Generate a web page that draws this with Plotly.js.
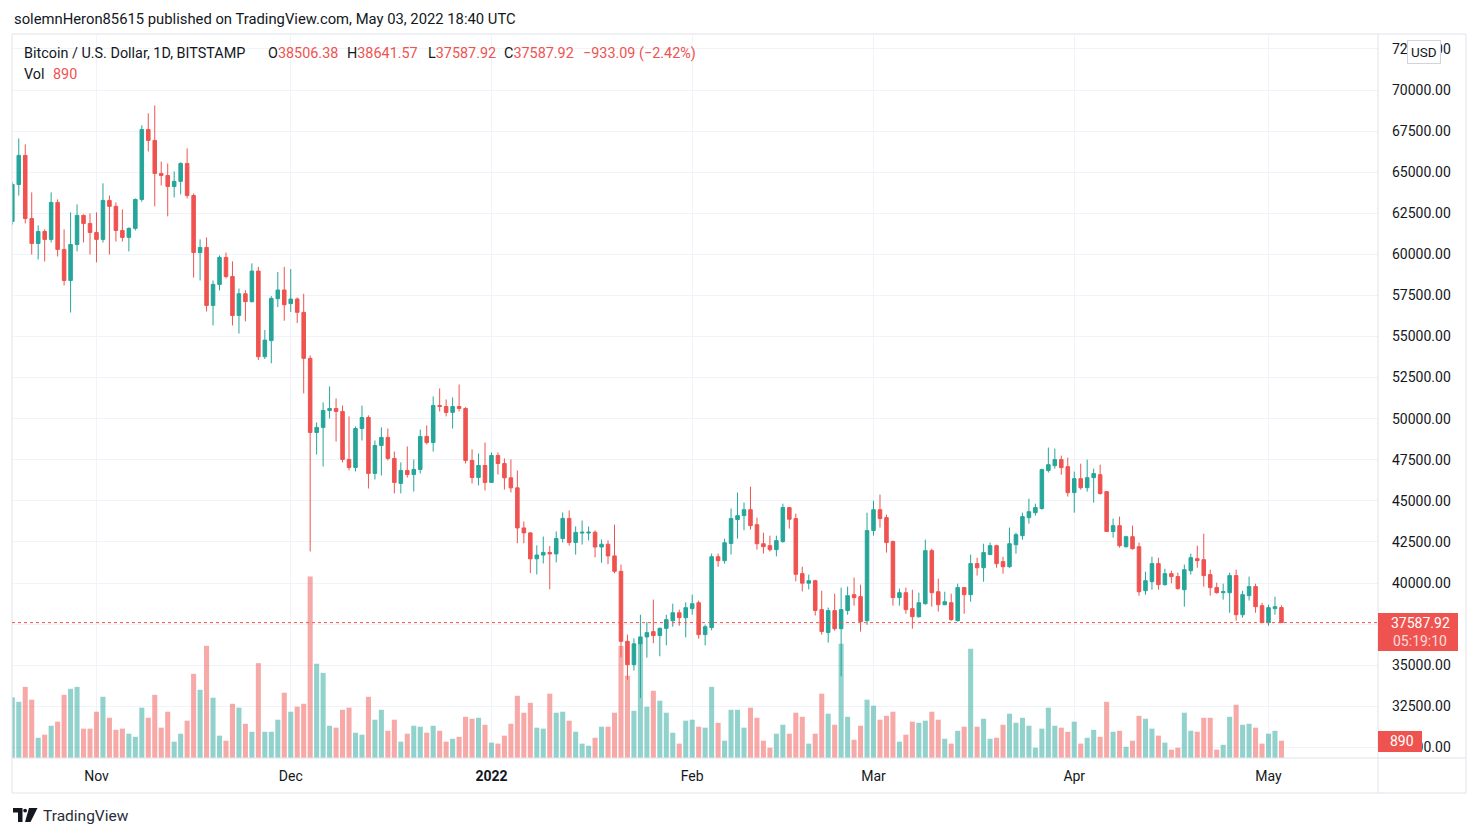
<!DOCTYPE html>
<html><head><meta charset="utf-8">
<script src="https://cdn.plot.ly/plotly-3.0.1.min.js"></script>
<style>html,body{margin:0;padding:0;background:#fff;overflow:hidden}#chart{width:1478px;height:837px}</style>
</head><body><div id="chart"></div>
<script>
// ---------- DATA ----------
const dates = [
"2021-10-19","2021-10-20","2021-10-21","2021-10-22","2021-10-23","2021-10-24","2021-10-25","2021-10-26","2021-10-27","2021-10-28","2021-10-29","2021-10-30","2021-10-31",
"2021-11-01","2021-11-02","2021-11-03","2021-11-04","2021-11-05","2021-11-06","2021-11-07","2021-11-08","2021-11-09","2021-11-10","2021-11-11","2021-11-12","2021-11-13","2021-11-14","2021-11-15","2021-11-16","2021-11-17","2021-11-18","2021-11-19","2021-11-20","2021-11-21","2021-11-22","2021-11-23","2021-11-24","2021-11-25","2021-11-26","2021-11-27","2021-11-28","2021-11-29","2021-11-30",
"2021-12-01","2021-12-02","2021-12-03","2021-12-04","2021-12-05","2021-12-06","2021-12-07","2021-12-08","2021-12-09","2021-12-10","2021-12-11","2021-12-12","2021-12-13","2021-12-14","2021-12-15","2021-12-16","2021-12-17","2021-12-18","2021-12-19","2021-12-20","2021-12-21","2021-12-22","2021-12-23","2021-12-24","2021-12-25","2021-12-26","2021-12-27","2021-12-28","2021-12-29","2021-12-30","2021-12-31",
"2022-01-01","2022-01-02","2022-01-03","2022-01-04","2022-01-05","2022-01-06","2022-01-07","2022-01-08","2022-01-09","2022-01-10","2022-01-11","2022-01-12","2022-01-13","2022-01-14","2022-01-15","2022-01-16","2022-01-17","2022-01-18","2022-01-19","2022-01-20","2022-01-21","2022-01-22","2022-01-23","2022-01-24","2022-01-25","2022-01-26","2022-01-27","2022-01-28","2022-01-29","2022-01-30","2022-01-31",
"2022-02-01","2022-02-02","2022-02-03","2022-02-04","2022-02-05","2022-02-06","2022-02-07","2022-02-08","2022-02-09","2022-02-10","2022-02-11","2022-02-12","2022-02-13","2022-02-14","2022-02-15","2022-02-16","2022-02-17","2022-02-18","2022-02-19","2022-02-20","2022-02-21","2022-02-22","2022-02-23","2022-02-24","2022-02-25","2022-02-26","2022-02-27","2022-02-28",
"2022-03-01","2022-03-02","2022-03-03","2022-03-04","2022-03-05","2022-03-06","2022-03-07","2022-03-08","2022-03-09","2022-03-10","2022-03-11","2022-03-12","2022-03-13","2022-03-14","2022-03-15","2022-03-16","2022-03-17","2022-03-18","2022-03-19","2022-03-20","2022-03-21","2022-03-22","2022-03-23","2022-03-24","2022-03-25","2022-03-26","2022-03-27","2022-03-28","2022-03-29","2022-03-30","2022-03-31",
"2022-04-01","2022-04-02","2022-04-03","2022-04-04","2022-04-05","2022-04-06","2022-04-07","2022-04-08","2022-04-09","2022-04-10","2022-04-11","2022-04-12","2022-04-13","2022-04-14","2022-04-15","2022-04-16","2022-04-17","2022-04-18","2022-04-19","2022-04-20","2022-04-21","2022-04-22","2022-04-23","2022-04-24","2022-04-25","2022-04-26","2022-04-27","2022-04-28","2022-04-29","2022-04-30",
"2022-05-01","2022-05-02","2022-05-03"
];

const openP = [
62000,64250,66020,62180,60660,61390,60910,63160,60300,58410,60600,62370,61880,
61330,60910,63280,62920,61450,61030,61580,63340,67600,66930,64920,64800,64130,64440,65530,63580,60110,60420,56890,58170,59810,58650,56280,57600,57120,58980,53770,54750,57300,57830,
57000,57280,56470,53670,49160,49470,50500,50620,50440,47520,47030,49400,50070,46670,48370,48860,47580,46060,46850,46600,46910,48920,48550,50800,50740,50380,50740,50620,47460,46420,47150,
46120,47760,47270,46400,45790,43350,43050,41470,41700,41860,41770,42710,43930,42470,43040,43040,43090,42190,42360,41650,40710,36450,35030,36300,36720,37040,36800,37240,37700,38190,37890,
38440,38800,36860,37290,41600,41360,42400,43860,44100,44460,43550,42390,42270,42030,42520,44590,43920,40570,39990,40140,38380,36990,38320,37220,38320,39290,39170,37710,
43190,44460,43980,42520,39110,39410,38440,37950,38740,41970,39470,38680,38800,37710,39720,39290,41180,40930,41730,42270,41300,40990,42330,42880,43980,44280,44530,46840,47140,47510,47080,
45500,46350,45800,46410,46590,45560,43130,43490,42210,42820,42210,39530,40080,41180,39900,40570,40390,39590,40750,41480,41420,40510,39720,39410,39410,40450,38070,39230,39780,38620,
37590,38440,38506.38
];

const highP = [
64400,67050,66690,63770,61760,61520,63770,63340,61520,62550,63040,62430,62490,
62550,64320,63580,63160,62730,61640,63400,67850,68580,69060,65650,65530,65050,65600,66450,63700,60910,61030,58410,59930,60110,59570,57920,57820,59450,59240,55390,57460,58920,59240,
59100,57380,57600,53850,49770,50990,51960,51230,50800,50140,49530,50800,50200,48670,49470,49400,48000,47340,48310,47520,49340,49590,51350,51840,51170,51290,52080,50700,48130,47880,48550,
47940,47940,47580,47520,46850,43740,43100,42290,42830,42250,43140,44290,44410,43440,43800,43440,43200,42650,42600,43550,41120,36860,36630,38070,37630,38990,37300,38070,38740,38380,38820,
39290,38930,37460,41790,41790,42700,44530,45500,44890,45860,43980,43060,42880,42880,44830,44600,44220,40990,40510,40200,39530,38500,39350,39720,39780,40330,39900,44280,
45010,45380,44160,42580,39660,39720,39590,39410,42640,42090,40260,39470,39350,39960,39750,41730,41540,42390,42460,42330,41600,43370,43060,44280,45130,44830,46960,48240,48180,47750,47630,
46780,47260,47510,46960,47200,45600,43920,44040,42880,43490,42460,40690,41600,41540,40870,40750,40630,41120,41790,42270,43000,40810,40020,39960,40630,40810,39530,40390,39960,38800,
38680,39170,38641.57
];

const lowP = [
61800,63580,61880,59990,59690,59570,60720,59870,58110,56460,60180,60720,59990,
59510,60720,59990,60780,60780,60180,61450,63200,66260,62920,64190,62310,63460,63650,63400,58590,58410,56520,55670,57800,58530,55670,55180,55920,57070,53570,53630,53370,56790,55960,
56490,55820,51540,41920,47820,47090,50010,48610,47340,46850,46790,48670,45750,46300,46540,47460,45450,45450,46420,45570,46670,48430,48000,50440,50140,49400,50440,47270,46060,45940,45630,
46100,46600,45690,45510,42420,42420,40600,40520,41190,39620,41250,42460,42280,41730,42340,42590,41560,41230,41150,40590,35480,34120,34680,33000,35460,36330,35540,36210,37340,37400,36690,
38070,36610,36210,37120,40990,41180,41730,42700,43210,43250,42030,41790,41910,41620,42450,43310,40100,39490,39610,38020,36860,36370,37100,34320,38070,38620,37040,37460,
42880,43370,41850,38620,38620,38130,37220,37890,38680,38560,38260,38650,37700,37650,38130,38860,40450,40080,41700,40930,40570,40930,41790,42640,43610,44100,44460,46720,46960,46590,45260,
44280,45680,45560,44890,45380,43100,42760,42150,42150,42030,39230,39290,39590,39590,39840,39980,39590,38560,40510,40930,39780,39230,39350,38990,38190,37710,37890,38930,38190,37580,
37400,38070,37587.92
];

const closeP = [
64250,66020,62180,60660,61390,60910,63160,60300,58410,60600,62370,61880,61330,
60910,63280,62920,61450,61030,61580,63340,67600,66930,64920,64800,64130,64440,65530,63580,60110,60420,56890,58170,59810,58650,56280,57600,57120,58980,53770,54780,57320,57830,56930,
57280,56470,53670,49160,49470,50500,50620,50440,47520,47030,49400,50070,46670,48370,48860,47580,46120,46850,46600,46910,48920,48550,50800,50740,50380,50740,50620,47460,46420,47150,46120,
47760,47270,46400,45790,43350,43050,41470,41700,41860,41770,42710,43930,42470,43080,43090,43090,42190,42360,41650,40710,36450,35030,36300,36720,36980,36800,37240,37770,38190,37890,38500,
38740,36860,37340,41600,41360,42450,43920,44100,44460,43490,42390,42210,42030,42580,44590,43880,40530,39990,40140,38330,37050,38320,37220,38380,39230,39110,37650,43190,
44460,43920,42460,39110,39410,38380,37950,38800,41970,39410,38680,38860,37770,39720,39290,41180,40930,41850,42270,41180,40990,42390,42940,44040,44340,44590,46900,47200,47510,47020,45500,
46350,45800,46410,46660,45440,43130,43490,42270,42820,42090,39470,40140,41180,39900,40570,40390,39660,40810,41540,41360,40450,39720,39410,39470,40450,38070,39290,39780,38560,37590,
38500,38560,37587.92
];

const volume = [
3120,2890,3660,3000,1040,1200,1660,1870,3250,3560,3660,1510,1510,
2380,3150,2070,1450,1510,1250,1090,2590,2070,3250,1560,2380,840,1250,1920,4330,3510,5770,3100,1150,890,2790,2590,1760,1350,4880,1350,1350,1970,3360,
2380,2640,2790,9340,4850,4380,1660,1560,2480,2590,1300,1200,3150,1970,2480,1400,1970,840,1250,1660,1610,1300,1660,1400,840,990,1090,2120,2020,2070,1710,
790,740,1150,1760,3200,2330,2840,1560,1510,3310,2330,2380,1920,1350,740,630,1040,1610,1610,2330,5770,4230,2430,5910,2640,3460,2950,2330,1300,740,1920,
1970,1610,1560,3660,1810,890,2480,2480,1560,2590,2070,890,530,1250,1710,1250,2330,2120,740,1250,3310,2280,1710,5880,2120,940,1660,3000,
2690,1970,2170,2380,840,1200,1870,1810,1920,2380,1970,990,740,1400,1610,5620,1610,2020,990,1040,1710,2280,1810,2070,1660,530,1510,2590,1660,1560,1350,
1870,740,1040,1450,1090,2890,1350,1400,580,890,2170,2020,1510,1150,790,430,530,2330,1400,1350,2070,2070,430,680,2120,2740,1710,1760,1560,740,
1250,1400,890
];

const monthTickVals = ["2021-11-01","2021-12-01","2022-01-01","2022-02-01","2022-03-01","2022-04-01","2022-05-01"];
const monthTickText = ["Nov","Dec","<b>2022</b>","Feb","Mar","Apr","May"];

const headerText = "solemnHeron85615 published on TradingView.com, May 03, 2022 18:40 UTC";
const symbolText = "Bitcoin / U.S. Dollar, 1D, BITSTAMP";
const changeText = "\u2212933.09 (\u22122.42%)";
const countdownText = "05:19:10";

// ---------- STYLE ----------
const GREEN = "#26a69a", RED = "#ef5350", TXT = "#131722", GRID = "#f0f3fa", BORDER = "#e0e3eb";
const FONT = "Roboto, 'Liberation Sans', Arial, sans-serif";
const L = 12, R = 1378, T = 35, B = 758;
const px = x => (x - L) / (R - L);
const py = y => (B - y) / (B - T);

const n = closeP.length;
const lastClose = closeP[n - 1];
const lastVol = volume[n - 1];
const fmt2 = v => v.toFixed(2);

const volColors = closeP.map((c, i) => c >= openP[i] ? "rgba(38,166,154,0.5)" : "rgba(239,83,80,0.5)");

const volTrace = {
  type: "bar", x: dates, y: volume, xaxis: "x", yaxis: "y",
  marker: {color: volColors, line: {width: 0}}, hoverinfo: "skip", showlegend: false
};
const candleTrace = {
  type: "candlestick", x: dates, open: openP, high: highP, low: lowP, close: closeP,
  xaxis: "x", yaxis: "y2", whiskerwidth: 0,
  increasing: {line: {color: GREEN, width: 1}, fillcolor: GREEN},
  decreasing: {line: {color: RED, width: 1}, fillcolor: RED},
  hoverinfo: "skip", showlegend: false
};

const LEG = 14.4;
function ann(text, x, y, opts) {
  return Object.assign({
    text: text, x: px(x), y: py(y), xref: "paper", yref: "paper",
    xanchor: "left", yanchor: "middle", showarrow: false,
    font: {family: FONT, size: LEG, color: TXT}
  }, opts || {});
}
const redSpan = s => `<span style="color:${RED}">${s}</span>`;

const annotations = [
  ann(headerText, 12, 19, {font: {family: FONT, size: 14.8, color: TXT}}),
  ann(symbolText, 22, 53),
  ann("O" + redSpan(fmt2(openP[n-1])), 266, 53),
  ann("H" + redSpan(fmt2(highP[n-1])), 345, 53),
  ann("L" + redSpan(fmt2(lowP[n-1])), 426, 53),
  ann("C" + redSpan(fmt2(lastClose)), 502, 53),
  ann(redSpan(changeText), 581, 53),
  ann("Vol", 22, 74),
  ann(redSpan(String(lastVol)), 51, 74),
  // USD badge
  ann("USD", 1424, 52, {xanchor: "center", bgcolor: "#ffffff", bordercolor: "#d1d4dc", borderwidth: 1, borderpad: 3,
    font: {family: FONT, size: 13.5, color: TXT}}),
  // last price label
  ann(fmt2(lastClose), 1420, 623, {xanchor: "center", font: {family: FONT, size: 14, color: "#ffffff"}}),
  ann(countdownText, 1420, 641, {xanchor: "center", font: {family: FONT, size: 14, color: "rgba(255,255,255,0.8)"}}),
  // volume label
  ann(String(lastVol), 1402, 741, {xanchor: "center", font: {family: FONT, size: 14, color: "#ffffff"}}),
  // TradingView brand
  ann("TradingView", 41, 816, {font: {family: FONT, size: 15.5, color: "#2a2e39"}})
];

const shapes = [
  // outer frame
  {type: "rect", xref: "paper", yref: "paper", x0: px(12), x1: px(1466), y0: py(793), y1: py(34), line: {color: BORDER, width: 1}, fillcolor: "rgba(0,0,0,0)", layer: "above"},
  {type: "line", xref: "paper", yref: "paper", x0: px(1378), x1: px(1378), y0: py(793), y1: py(34), line: {color: BORDER, width: 1}, layer: "above"},
  {type: "line", xref: "paper", yref: "paper", x0: px(12), x1: px(1466), y0: py(758), y1: py(758), line: {color: BORDER, width: 1}, layer: "above"},
  // last price dotted line
  {type: "line", xref: "paper", yref: "y2", x0: 0, x1: 1, y0: lastClose, y1: lastClose, line: {color: RED, width: 1, dash: "dot"}, layer: "above"},
  // price label box
  {type: "rect", xref: "paper", yref: "paper", x0: px(1378), x1: px(1458), y0: py(651), y1: py(613), fillcolor: RED, line: {width: 0}, layer: "above"},
  // volume label box
  {type: "rect", xref: "paper", yref: "paper", x0: px(1378), x1: px(1422), y0: py(752), y1: py(731), fillcolor: RED, line: {width: 0}, layer: "above"},
  // TradingView logo (approximate glyph)
  {type: "path", xref: "paper", yref: "paper", fillcolor: "#131722", line: {width: 0},
   path: `M${px(13)},${py(808)} L${px(22.5)},${py(808)} L${px(22.5)},${py(822)} L${px(18)},${py(822)} L${px(18)},${py(812.5)} L${px(13)},${py(812.5)} Z`},
  {type: "circle", xref: "paper", yref: "paper", fillcolor: "#131722", line: {width: 0},
   x0: px(23.2), x1: px(27), y0: py(812.5), y1: py(808.7)},
  {type: "path", xref: "paper", yref: "paper", fillcolor: "#131722", line: {width: 0},
   path: `M${px(29)},${py(808)} L${px(37.5)},${py(808)} L${px(30.5)},${py(822)} L${px(25)},${py(822)} Z`}
];

const layout = {
  width: 1478, height: 837,
  margin: {l: L, r: 1478 - R, t: T, b: 837 - B, pad: 0},
  paper_bgcolor: "#ffffff", plot_bgcolor: "#ffffff",
  font: {family: FONT, size: 13, color: TXT},
  showlegend: false, bargap: 0.22, boxgap: 0.22, hovermode: false,
  xaxis: {
    type: "date", range: ["2021-10-18 22:53", "2022-05-17 21:50"],
    tickmode: "array", tickvals: monthTickVals, ticktext: monthTickText,
    showgrid: true, gridcolor: GRID, gridwidth: 1, zeroline: false, showline: false,
    ticks: "", ticklabelstandoff: 8, tickfont: {family: FONT, size: 14, color: TXT},
    rangeslider: {visible: false}, fixedrange: true
  },
  yaxis: {range: [0, 37200], visible: false, showgrid: false, zeroline: false, fixedrange: true},
  yaxis2: {
    overlaying: "y", side: "right", range: [29351, 73347], tick0: 0, dtick: 2500, tickformat: ".2f",
    showgrid: true, gridcolor: GRID, gridwidth: 1, zeroline: false, showline: false,
    ticks: "", ticklabelstandoff: 13, tickfont: {family: FONT, size: 14, color: TXT}, fixedrange: true
  },
  annotations: annotations,
  shapes: shapes
};

Plotly.newPlot("chart", [volTrace, candleTrace], layout, {staticPlot: true, displayModeBar: false});
</script>
</body></html>
